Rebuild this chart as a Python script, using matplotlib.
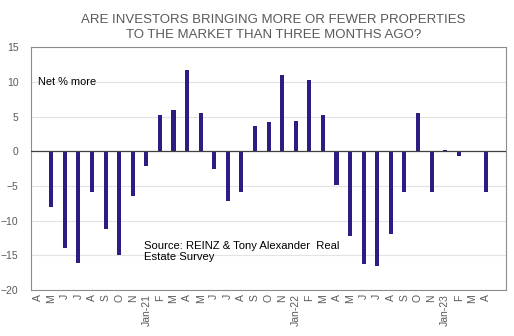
import matplotlib.pyplot as plt
import numpy as np

plt.rcParams['font.family'] = ['Liberation Sans', 'DejaVu Sans']

# monthly survey, Apr 2020 .. Apr 2023 (no December survey)
months = ["A", "M", "J", "J", "A", "S", "O", "N",
          "Jan-21", "F", "M", "A", "M", "J", "J", "A", "S", "O", "N",
          "Jan-22", "F", "M", "A", "M", "J", "J", "A", "S", "O", "N",
          "Jan-23", "F", "M", "A"]
net_more = [np.nan, -8.0, -14.0, -16.1, -5.8, -11.2, -15.0, -6.5,
            -2.1, 5.2, 6.0, 11.8, 5.5, -2.5, -7.1, -5.8, 3.6, 4.2, 11.0,
            4.4, 10.3, 5.2, -4.8, -12.2, -16.3, -16.6, -11.9, -5.9, 5.5, -5.9,
            0.2, -0.7, np.nan, -5.9]

grey = "#595959"
bar_color = "#2E1C82"

fig = plt.figure(figsize=(5.14, 3.36), dpi=100)
ax = fig.add_axes([0.060, 0.137, 0.925, 0.722])

x = np.arange(len(months))
ax.bar(x, net_more, width=0.3, color=bar_color, zorder=3)

ax.set_xlim(-0.5, len(months) + 0.5)
ax.set_ylim(-20, 15)
ax.set_yticks(np.arange(-20, 16, 5))
ax.set_xticks(x)
ax.set_xticklabels(months, rotation=90)
ax.tick_params(axis='both', length=0, labelsize=7.5, labelcolor=grey)
ax.tick_params(axis='x', pad=3)
ax.tick_params(axis='y', pad=9)

ax.grid(axis='y', color="#E3E3E3", linewidth=0.8, zorder=0)
ax.axhline(0, color="#404040", linewidth=0.9, zorder=4)
for side in ax.spines.values():
    side.set_color("#8C8C8C")
    side.set_linewidth(0.8)

ax.text(0.02, 10, "Net % more", fontsize=7.9, color="black", va='center', ha='left')
ax.text(7.85, -14.4, "Source: REINZ & Tony Alexander  Real\nEstate Survey",
        fontsize=8.1, color="black", va='center', ha='left', linespacing=1.1)

fig.text(0.532, 0.917, "ARE INVESTORS BRINGING MORE OR FEWER PROPERTIES\nTO THE MARKET THAN THREE MONTHS AGO?",
         ha='center', va='center', fontsize=9.5, color=grey, linespacing=1.33)

fig.savefig("out.png", dpi=100)
